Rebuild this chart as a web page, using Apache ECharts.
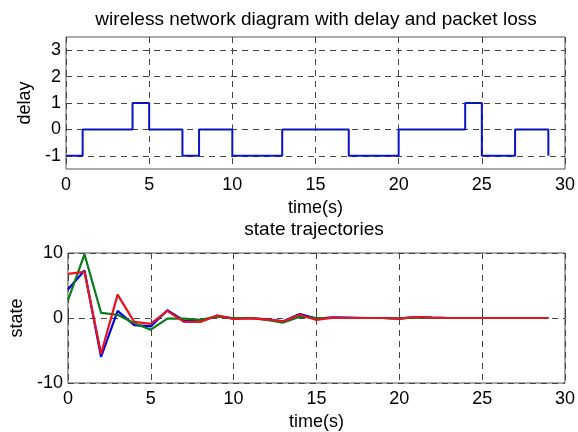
<!DOCTYPE html>
<html>
<head>
<meta charset="utf-8">
<script src="https://cdn.jsdelivr.net/npm/echarts@6/dist/echarts.min.js"></script>
<style>html,body{margin:0;padding:0;background:#fff}#c{width:578px;height:432px}</style>
</head>
<body>
<div id="c"></div>
<script>
var timeSteps = [0,1,2,3,4,5,6,7,8,9,10,11,12,13,14,15,16,17,18,19,20,21,22,23,24,25,26,27,28,29];
var delayValues = [-1,0,0,0,1,0,0,-1,0,0,-1,-1,-1,0,0,0,0,-1,-1,-1,0,0,0,0,1,-1,-1,0,0,-1];
var stateBlue  = [4.4,7.3,-6.0,1.1,-1.1,-1.3,1.2,-0.4,-0.5,0.35,-0.1,0,-0.2,-0.5,0.6,-0.1,0.1,0.05,0,0,-0.1,0.15,0.05,0,0,0,0,0,0,0];
var stateGreen = [2.7,9.8,0.8,0.5,-0.8,-1.8,-0.1,-0.1,-0.3,0.2,0,0,-0.3,-0.7,0.2,0,0,0,0,0,-0.05,0.1,0,0,0,0,0,0,0,0];
var stateRed   = [6.8,7.1,-5.5,3.6,-0.6,-0.9,1.1,-0.6,-0.6,0.4,-0.15,-0.05,-0.2,-0.5,0.5,-0.3,0.05,0,0,0,-0.1,0.15,0.05,0,0,0,0,0,0,0];
var xTicks = [0,5,10,15,20,25,30];
var delayTicks = [-1,0,1,2,3];
var stateTicks = [-10,0,10];

function pairs(v){ return timeSteps.map(function(t,i){ return [t, v[i]]; }); }

var font = 'Liberation Sans';
var dash = {show:true, lineStyle:{color:'#444', type:[6,5], width:1}};
function xAxis(gi){
  return {type:'value', gridIndex:gi, min:0, max:30, interval:5,
    name:'time(s)', nameLocation:'middle', nameGap:30,
    nameTextStyle:{fontFamily:font, fontSize:18, color:'#000'},
    axisLine:{show:false}, axisTick:{show:true, inside:true, length:5, customValues:xTicks, lineStyle:{color:'#444'}},
    axisLabel:{fontFamily:font, fontSize:18, color:'#000', margin:7, customValues:xTicks},
    splitLine: dash};
}
var option = {
  animation:false,
  backgroundColor:'#fff',
  title:[
    {text:'wireless network diagram with delay and packet loss', left:311, textAlign:'center', top:5,
     textStyle:{fontFamily:font, fontSize:19, fontWeight:'normal', color:'#000'}},
    {text:'state trajectories', left:309, textAlign:'center', top:215,
     textStyle:{fontFamily:font, fontSize:19, fontWeight:'normal', color:'#000'}}
  ],
  grid:[
    {left:66, top:37, width:501, height:132, show:true, borderColor:'#555', borderWidth:1, backgroundColor:'#fff'},
    {left:66, top:253, width:501, height:131, show:true, borderColor:'#555', borderWidth:1, backgroundColor:'#fff'}
  ],
  xAxis:[xAxis(0), xAxis(1)],
  yAxis:[
    {type:'value', gridIndex:0, min:-1.5, max:3.5,
     name:'delay', nameLocation:'middle', nameGap:28, nameRotate:90,
     nameTextStyle:{fontFamily:font, fontSize:18, color:'#000'},
     axisLine:{show:false},
     axisTick:{show:true, inside:true, length:5, customValues:delayTicks, lineStyle:{color:'#444'}},
     axisLabel:{fontFamily:font, fontSize:18, color:'#000', margin:5, customValues:delayTicks},
     splitLine: dash},
    {type:'value', gridIndex:1, min:-10, max:10, interval:10,
     name:'state', nameLocation:'middle', nameGap:37, nameRotate:90,
     nameTextStyle:{fontFamily:font, fontSize:18, color:'#000'},
     axisLine:{show:false},
     axisTick:{show:true, inside:true, length:5, customValues:stateTicks, lineStyle:{color:'#444'}},
     axisLabel:{fontFamily:font, fontSize:18, color:'#000', margin:5, customValues:stateTicks},
     splitLine: dash}
  ],
  series:[
    {type:'line', xAxisIndex:0, yAxisIndex:0, data:pairs(delayValues), step:'end', showSymbol:false,
     lineStyle:{color:'#0b14c4', width:2}},
    {type:'line', xAxisIndex:1, yAxisIndex:1, data:pairs(stateBlue), showSymbol:false,
     lineStyle:{color:'#0000e0', width:2.2}},
    {type:'line', xAxisIndex:1, yAxisIndex:1, data:pairs(stateGreen), showSymbol:false,
     lineStyle:{color:'#0a7a1a', width:2.2}},
    {type:'line', xAxisIndex:1, yAxisIndex:1, data:pairs(stateRed), showSymbol:false,
     lineStyle:{color:'#e8141e', width:2.2}}
  ]
};
echarts.init(document.getElementById('c'), null, {renderer:'canvas'}).setOption(option);
</script>
</body>
</html>
